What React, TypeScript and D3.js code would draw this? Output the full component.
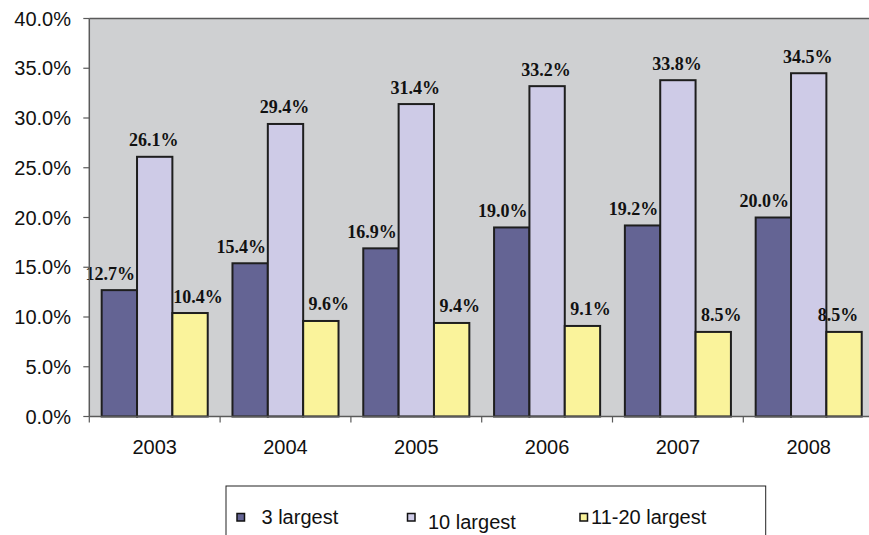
import React from "react";
import * as d3 from "d3";

// Market share of the largest firms, by year
const years = ["2003", "2004", "2005", "2006", "2007", "2008"];
const seriesNames = ["3 largest", "10 largest", "11-20 largest"];
const largest3 = [12.7, 15.4, 16.9, 19.0, 19.2, 20.0];
const largest10 = [26.1, 29.4, 31.4, 33.2, 33.8, 34.5];
const largest11to20 = [10.4, 9.6, 9.4, 9.1, 8.5, 8.5];
const yTicks = [0, 5, 10, 15, 20, 25, 30, 35, 40];

const seriesValues = [largest3, largest10, largest11to20];
const fills = ["#646494", "#cecbe7", "#faf39b"];
const labelShift = [-9, -1, 8];

const W = 869;
const H = 535;
const plot = { left: 89.3, right: 874.1, top: 18.5, bottom: 416.5 };

const sans = "'Liberation Sans', Arial, sans-serif";
const serif = "'Liberation Serif', 'Times New Roman', serif";

export default function App() {
  const x0 = d3.scaleBand<string>().domain(years).range([plot.left, plot.right]).padding(0);
  const x1 = d3
    .scaleBand<string>()
    .domain(seriesNames)
    .range([0, x0.bandwidth()])
    .paddingInner(0)
    .paddingOuter(0.35);
  const y = d3.scaleLinear().domain([0, 40]).range([plot.bottom, plot.top]);
  const fmt = (v: number) => d3.format(".1f")(v) + "%";

  const legendItems = [
    { marker: 237, text: 261.5, base: 524 },
    { marker: 407.5, text: 428, base: 529 },
    { marker: 580, text: 591, base: 524 },
  ];

  return (
    <div style={{ position: "absolute", left: 0, top: 0 }}>
      <svg width={W} height={H} style={{ display: "block", background: "#fff" }}>
        {/* plot area */}
        <rect
          x={plot.left}
          y={plot.top}
          width={plot.right - plot.left}
          height={plot.bottom - plot.top}
          fill="#cfd0d2"
        />
        <line x1={plot.left} x2={plot.right} y1={plot.top} y2={plot.top} stroke="#5a5a5a" strokeWidth={1.5} />

        {/* bars */}
        {seriesValues.map((vals, si) =>
          vals.map((v, i) => {
            const bx = (x0(years[i]) as number) + (x1(seriesNames[si]) as number);
            return (
              <rect
                key={`b-${si}-${i}`}
                x={bx}
                y={y(v)}
                width={x1.bandwidth()}
                height={y(0) - y(v)}
                fill={fills[si]}
                stroke="#1e1e1e"
                strokeWidth={2}
              />
            );
          })
        )}

        {/* value labels, kept inside the chart's right edge */}
        {seriesValues.map((vals, si) =>
          vals.map((v, i) => {
            const cx =
              (x0(years[i]) as number) + (x1(seriesNames[si]) as number) + x1.bandwidth() / 2 + labelShift[si];
            return (
              <text
                key={`l-${si}-${i}`}
                x={Math.min(cx, W - 31)}
                y={y(v) - 10.5}
                textAnchor="middle"
                fontFamily={serif}
                fontWeight="bold"
                fontSize={18}
                fill="#111"
              >
                {fmt(v)}
              </text>
            );
          })
        )}

        {/* y axis */}
        <line x1={plot.left} x2={plot.left} y1={plot.top} y2={plot.bottom} stroke="#5a5a5a" strokeWidth={1.5} />
        {yTicks.map((t) => (
          <g key={`yt-${t}`}>
            <line x1={plot.left - 6} x2={plot.left} y1={y(t)} y2={y(t)} stroke="#5a5a5a" strokeWidth={1.2} />
            <text x={71} y={y(t) + 7} textAnchor="end" fontFamily={sans} fontSize={20} fill="#111">
              {fmt(t)}
            </text>
          </g>
        ))}

        {/* x axis */}
        <line x1={plot.left} x2={plot.right} y1={plot.bottom} y2={plot.bottom} stroke="#5a5a5a" strokeWidth={1.5} />
        {years.map((yr) => (
          <line
            key={`xt-${yr}`}
            x1={(x0(yr) as number) + x0.bandwidth()}
            x2={(x0(yr) as number) + x0.bandwidth()}
            y1={plot.bottom}
            y2={plot.bottom + 6}
            stroke="#5a5a5a"
            strokeWidth={1.2}
          />
        ))}
        <line x1={plot.left} x2={plot.left} y1={plot.bottom} y2={plot.bottom + 6} stroke="#5a5a5a" strokeWidth={1.2} />
        {years.map((yr) => (
          <text
            key={`xl-${yr}`}
            x={(x0(yr) as number) + x0.bandwidth() / 2}
            y={454}
            textAnchor="middle"
            fontFamily={sans}
            fontSize={20}
            fill="#111"
          >
            {yr}
          </text>
        ))}

        {/* legend */}
        <rect x={226} y={486} width={539.7} height={60} fill="#fff" stroke="#222" strokeWidth={1} />
        {seriesNames.map((name, si) => (
          <g key={`lg-${si}`}>
            <rect
              x={legendItems[si].marker}
              y={513.5}
              width={7.5}
              height={7.5}
              fill={fills[si]}
              stroke="#111"
              strokeWidth={1.5}
            />
            <text x={legendItems[si].text} y={legendItems[si].base} fontFamily={sans} fontSize={20} fill="#111">
              {name}
            </text>
          </g>
        ))}
      </svg>
    </div>
  );
}
